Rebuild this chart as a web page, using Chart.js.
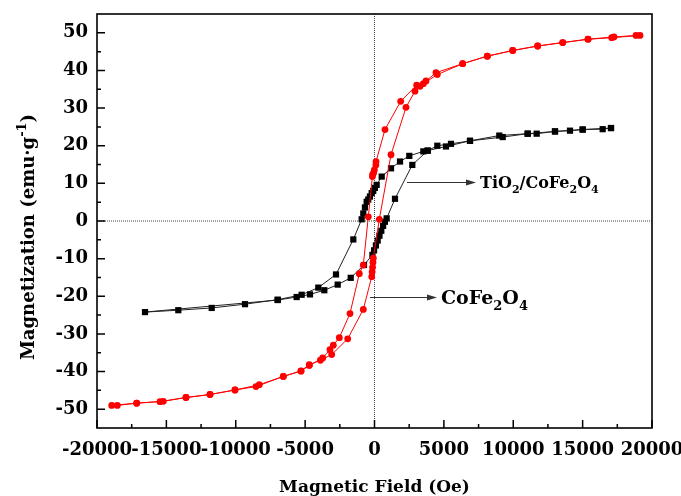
<!DOCTYPE html>
<html lang="en">
<head>
<meta charset="UTF-8" />
<title>Magnetic hysteresis loops</title>
<script src="https://cdn.jsdelivr.net/npm/chart.js"></script>
<style>
  body { margin: 0; background: #fff; }
</style>
</head>
<body>
<canvas id="loopChart" width="681" height="496"></canvas>
<script>
  // tick values
  const xTicks = [-20000, -15000, -10000, -5000, 0, 5000, 10000, 15000, 20000];
  const yTicks = [-50, -40, -30, -20, -10, 0, 10, 20, 30, 40, 50];

  // CoFe2O4 loop (red): descending branch then ascending branch
  const cofeH = [19134, 17093, 15387, 13563, 11760, 9960, 8130, 6354, 4431, 3712, 3040, 1886, 757,
    110, 100, -10, -60, -130, -150, -447, -807, -1095, -1766, -2537, -2969, -3207, -3733, -4699,
    -5297, -6573, -8302, -10054, -11855, -13585, -15220, -17140, -18940,
    -18537, -17140, -15460, -13585, -11855, -10054, -8540, -6573, -5297, -4699, -3900, -3085,
    -1931, -807, -200, -170, -140, -110, -86, 346, 1189, 2270, 2918, 3280, 3520, 4527, 6354,
    8130, 9960, 11760, 13563, 15387, 17260, 18846];
  const cofeM = [49.3, 48.7, 48.3, 47.4, 46.5, 45.3, 43.8, 41.8, 39.4, 37.2, 36.1, 31.8, 24.3,
    15.8, 14.9, 13.6, 12.8, 12.4, 11.8, 1.1, -11.7, -14, -24.6, -31, -33, -34.2, -36.4, -38.4,
    -39.9, -41.3, -43.5, -44.9, -46.1, -46.9, -47.9, -48.4, -49,
    -49, -48.4, -48, -46.9, -46.1, -44.9, -44, -41.3, -39.8, -38.2, -37, -35.5,
    -31.3, -23.5, -14.8, -13.5, -12.3, -11, -9.9, 0.45, 17.6, 30.2, 34.5, 35.8, 36.5, 38.9, 41.8,
    43.8, 45.3, 46.5, 47.4, 48.3, 48.9, 49.3];

  // TiO2/CoFe2O4 loop (black)
  const compH = [17045, 16445, 15004, 14089, 13009, 11689, 11040, 8994, 6883, 5513, 4527, 3832,
    3520, 2508, 1838, 1189, 519, 156, 30, -90, -204, -330, -450, -565, -690, -807, -925,
    -1527, -2775, -4050, -5250, -6977, -9333, -11733, -14140, -16540,
    -6977, -5610, -4650, -3617, -2652, -1715, -757, -150, -30, 100, 230, 360, 490, 620, 750,
    876, 1477, 2724, 3832, 5153, 6883, 9239, 11040, 13009, 15004, 17045];
  const compM = [24.7, 24.4, 24.3, 24, 23.8, 23.2, 23.2, 22.7, 21.3, 20.5, 20, 18.7,
    18.5, 17.3, 15.8, 14, 11.8, 9.6, 8.8, 8.0, 7.4, 6.5, 5.7, 5.1, 3.6, 2.0, 0.45,
    -4.9, -14.2, -17.7, -19.6, -20.9, -22.1, -23.1, -23.7, -24.2,
    -21.0, -20.2, -19.5, -18.4, -16.9, -15.1, -11.7, -9, -7.8, -6.5, -5.2, -3.9, -2.6, -1.3, -0.2,
    0.7, 5.9, 14.9, 18.7, 19.8, 21.3, 22.3, 23.2, 23.8, 24.3, 24.7];

  // labels with arrows: arrow start H, arrow end H, M, font size, text parts
  const labelArrows = [
    { x0: 2342, x1: 7315, y: 10.4, size: 16, parts: [["TiO"], ["2", "sub"], ["/CoFe"], ["2", "sub"], ["O"], ["4", "sub"]] },
    { x0: -324, x1: 4504, y: -20.2, size: 19, parts: [["CoFe"], ["2", "sub"], ["O"], ["4", "sub"]] }
  ];

  const FONT = '"DejaVu Serif", "Liberation Serif", serif';

  function toPoints(h, m) {
    return h.map((v, i) => ({ x: v, y: m[i] }));
  }

  // draw text made of normal / sub / sup parts
  function drawRich(ctx, parts, x, y, size, align) {
    const small = Math.round(size * 0.7);
    const widths = parts.map(p => {
      ctx.font = "bold " + (p[1] ? small : size) + "px " + FONT;
      return ctx.measureText(p[0]).width;
    });
    const total = widths.reduce((a, b) => a + b, 0);
    let cx = align === "center" ? x - total / 2 : x;
    ctx.textBaseline = "alphabetic";
    ctx.textAlign = "left";
    parts.forEach((p, i) => {
      ctx.font = "bold " + (p[1] ? small : size) + "px " + FONT;
      let dy = 0;
      if (p[1] === "sub") dy = size * 0.3;
      if (p[1] === "sup") dy = -size * 0.45;
      ctx.fillText(p[0], cx, y + dy);
      cx += widths[i];
    });
  }

  // pin the axis boxes so the plot frame sits where the original has it
  function noPad(s) {
    s.paddingLeft = 0;
    s.paddingRight = 0;
    s.paddingTop = 0;
    s.paddingBottom = 0;
  }

  const framePlugin = {
    id: "frame",
    beforeDatasetsDraw(chart) {
      const ctx = chart.ctx;
      const { left, right, top, bottom } = chart.chartArea;
      const x0 = chart.scales.x.getPixelForValue(0);
      const y0 = chart.scales.y.getPixelForValue(0);
      ctx.save();
      ctx.strokeStyle = "#444";
      ctx.lineWidth = 1;
      ctx.setLineDash([1, 1]);
      ctx.beginPath();
      ctx.moveTo(x0, top);
      ctx.lineTo(x0, bottom);
      ctx.moveTo(left, y0);
      ctx.lineTo(right, y0);
      ctx.stroke();
      ctx.restore();
    },
    afterDraw(chart) {
      const ctx = chart.ctx;
      const xs = chart.scales.x, ys = chart.scales.y;
      const { left, right, top, bottom } = chart.chartArea;
      ctx.save();
      ctx.strokeStyle = "#000";
      ctx.lineWidth = 1.6;
      ctx.strokeRect(left, top, right - left, bottom - top);

      // inward ticks, major and minor
      ctx.lineWidth = 1.5;
      ctx.beginPath();
      xTicks.forEach((v, i) => {
        const px = xs.getPixelForValue(v);
        ctx.moveTo(px, bottom);
        ctx.lineTo(px, bottom - 8);
        if (i < xTicks.length - 1) {
          const mx = xs.getPixelForValue((v + xTicks[i + 1]) / 2);
          ctx.moveTo(mx, bottom);
          ctx.lineTo(mx, bottom - 4);
        }
      });
      yTicks.forEach((v, i) => {
        const py = ys.getPixelForValue(v);
        ctx.moveTo(left, py);
        ctx.lineTo(left + 8, py);
        if (i < yTicks.length - 1) {
          const my = ys.getPixelForValue((v + yTicks[i + 1]) / 2);
          ctx.moveTo(left, my);
          ctx.lineTo(left + 4, my);
        }
      });
      ctx.stroke();

      // arrows and their labels
      labelArrows.forEach(a => {
        const px0 = xs.getPixelForValue(a.x0);
        const px1 = xs.getPixelForValue(a.x1);
        const py = Math.round(ys.getPixelForValue(a.y)) + 0.5;
        ctx.strokeStyle = "#333";
        ctx.lineWidth = 1;
        ctx.beginPath();
        ctx.moveTo(px0, py);
        ctx.lineTo(px1 - 8, py);
        ctx.stroke();
        ctx.fillStyle = "#333";
        ctx.beginPath();
        ctx.moveTo(px1, py);
        ctx.lineTo(px1 - 10, py - 3);
        ctx.lineTo(px1 - 10, py + 3);
        ctx.closePath();
        ctx.fill();
        ctx.fillStyle = "#000";
        drawRich(ctx, a.parts, px1 + 4, py + a.size * 0.36, a.size, "left");
      });

      // y axis title, rotated
      ctx.translate(34, 237);
      ctx.rotate(-Math.PI / 2);
      drawRich(ctx, [["Magnetization (emu·g"], ["-1", "sup"], [")"]], 0, 0, 18, "center");
      ctx.restore();
    }
  };

  new Chart(document.getElementById("loopChart"), {
    type: "scatter",
    data: {
      datasets: [
        {
          label: "CoFe2O4",
          data: toPoints(cofeH, cofeM),
          showLine: true,
          borderColor: "#ff0000",
          backgroundColor: "#ff0000",
          borderWidth: 1,
          pointStyle: "circle",
          pointRadius: 3.4,
          pointBorderWidth: 0,
          tension: 0
        },
        {
          label: "TiO2/CoFe2O4",
          data: toPoints(compH, compM),
          showLine: true,
          borderColor: "#222",
          backgroundColor: "#000",
          borderWidth: 1,
          pointStyle: "rect",
          pointRadius: 4.4,
          pointBorderWidth: 0,
          tension: 0
        }
      ]
    },
    options: {
      responsive: false,
      animation: false,
      devicePixelRatio: 1,
      layout: { padding: { top: 14, right: 29, left: 0, bottom: 0 } },
      plugins: { legend: { display: false }, tooltip: { enabled: false } },
      scales: {
        x: {
          type: "linear",
          min: -20000,
          max: 20000,
          afterBuildTicks: s => { s.ticks = xTicks.map(v => ({ value: v })); },
          afterFit: s => { s.height = 68; noPad(s); },
          grid: { display: false, drawTicks: false },
          border: { display: false },
          ticks: {
            autoSkip: false,
            maxRotation: 0,
            padding: 12,
            color: "#000",
            font: { family: FONT, size: 18, weight: "bold" },
            callback: v => String(v)
          },
          title: {
            display: true,
            text: "Magnetic Field (Oe)",
            color: "#000",
            padding: 0,
            font: { family: FONT, size: 17, weight: "bold", lineHeight: 1 }
          }
        },
        y: {
          type: "linear",
          min: -55,
          max: 55,
          afterBuildTicks: s => { s.ticks = yTicks.map(v => ({ value: v })); },
          afterFit: s => { s.width = 97; noPad(s); },
          grid: { display: false, drawTicks: false },
          border: { display: false },
          ticks: {
            padding: 9,
            color: "#000",
            font: { family: FONT, size: 18, weight: "bold" },
            callback: v => String(v)
          }
        }
      }
    },
    plugins: [framePlugin]
  });
</script>
</body>
</html>
